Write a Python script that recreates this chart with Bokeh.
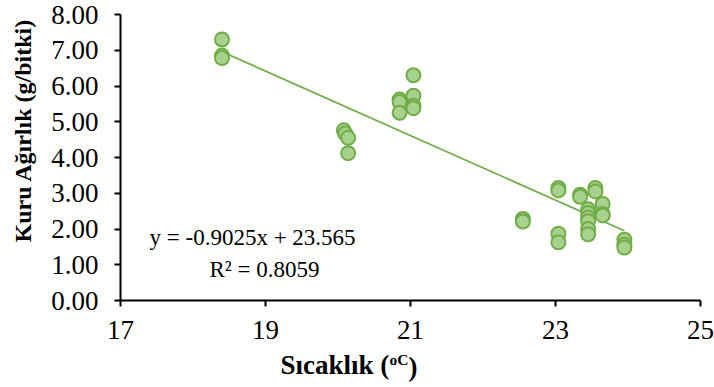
from bokeh.plotting import figure
from bokeh.models import Label, Range1d, FixedTicker, NumeralTickFormatter, ColumnDataSource
from bokeh.embed import file_html
from bokeh.resources import INLINE
import math

# ---- data ----
temperature = [18.40, 18.40, 18.40,
               20.08, 20.10, 20.14, 20.14,
               20.85, 20.85, 20.85,
               21.04, 21.04, 21.04, 21.04,
               22.55, 22.55,
               23.04, 23.04, 23.04, 23.04,
               23.34, 23.34,
               23.45, 23.45, 23.45, 23.45, 23.45, 23.45,
               23.55, 23.55,
               23.65, 23.65, 23.65,
               23.95, 23.95, 23.95]
dry_weight = [7.30, 6.85, 6.78,
              4.76, 4.67, 4.55, 4.12,
              5.62, 5.55, 5.25,
              6.30, 5.73, 5.45, 5.38,
              2.28, 2.21,
              3.15, 3.08, 1.87, 1.63,
              2.96, 2.90,
              2.55, 2.45, 2.32, 2.22, 2.00, 1.85,
              3.15, 3.05,
              2.70, 2.42, 2.38,
              1.70, 1.56, 1.48]
trend_slope = -0.9025
trend_intercept = 23.565
equation_text = "y = -0.9025x + 23.565"
r2_text = "R² = 0.8059"
x_ticks = [17, 19, 21, 23, 25]
y_ticks = [0, 1, 2, 3, 4, 5, 6, 7, 8]
x_title = "Sıcaklık ("
x_title_sup = "oC"
x_title_end = ")"
y_title = "Kuru Ağırlık (g/bitki)"

FONT = "Liberation Serif"

p = figure(width=714, height=387, output_backend="svg", toolbar_location=None,
           x_range=Range1d(17, 25), y_range=Range1d(0, 8),
           min_border_left=120, min_border_right=14, min_border_top=14,
           min_border_bottom=87)
p.outline_line_color = None
p.grid.visible = False
p.background_fill_color = "white"
p.border_fill_color = "white"

for ax in (p.xaxis[0], p.yaxis[0]):
    ax.axis_line_color = "black"
    ax.axis_line_width = 2
    ax.major_tick_line_color = "black"
    ax.major_tick_line_width = 2
    ax.major_tick_out = 6
    ax.major_tick_in = 0
    ax.minor_tick_line_color = None
    ax.major_label_text_font = FONT
    ax.major_label_text_font_size = "27px"
    ax.major_label_text_color = "black"

p.xaxis.ticker = FixedTicker(ticks=x_ticks)
p.yaxis.ticker = FixedTicker(ticks=y_ticks)
p.yaxis.formatter = NumeralTickFormatter(format="0.00")
p.yaxis.major_label_standoff = 16
p.xaxis.major_label_standoff = 14

src = ColumnDataSource(dict(x=temperature, y=dry_weight))
xmin, xmax = min(temperature), max(temperature)
trend = ColumnDataSource(dict(x=[xmin, xmax],
                              y=[trend_slope * xmin + trend_intercept,
                                 trend_slope * xmax + trend_intercept]))
p.line("x", "y", source=trend, line_color="#70AD47", line_width=1.8)
p.scatter("x", "y", source=src, size=14, fill_color="#A9D18E",
          line_color="#70AD47", line_width=2)

# equation labels (screen units relative to frame bottom-left)
p.add_layout(Label(x=29, y=63, x_units="screen", y_units="screen", text=equation_text,
                   text_font=FONT, text_font_size="23px", text_color="black",
                   text_align="left", text_baseline="alphabetic"))
p.add_layout(Label(x=89, y=31, x_units="screen", y_units="screen", text=r2_text,
                   text_font=FONT, text_font_size="23px", text_color="black",
                   text_align="left", text_baseline="alphabetic"))

# axis titles placed in the side panels (outside the clipped frame)
p.add_layout(Label(x=160, y=7, x_units="screen", y_units="screen", text=x_title,
                   text_font=FONT, text_font_size="27px", text_font_style="bold",
                   text_color="black", text_align="left", text_baseline="alphabetic"), "below")
p.add_layout(Label(x=0, y=170, x_units="screen", y_units="screen", text=y_title,
                   angle=math.pi / 2, text_font=FONT, text_font_size="24px",
                   text_font_style="bold", text_color="black",
                   text_align="center", text_baseline="middle"), "left")
p.add_layout(Label(x=386, y=-59, x_units="screen", y_units="screen", text=x_title_sup,
                   text_font=FONT, text_font_size="15.5px", text_font_style="bold",
                   text_color="black", text_align="left", text_baseline="alphabetic"), "left")
p.add_layout(Label(x=-292, y=-66, x_units="screen", y_units="screen", text=x_title_end,
                   text_font=FONT, text_font_size="27px", text_font_style="bold",
                   text_color="black", text_align="left", text_baseline="alphabetic"), "right")

open("out.html", "w").write(file_html(p, INLINE))
